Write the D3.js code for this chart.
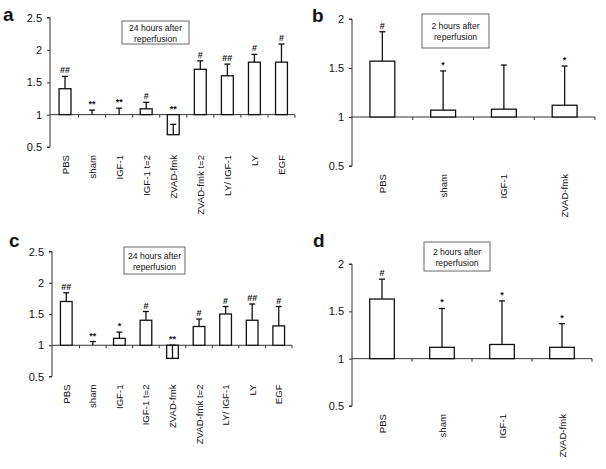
<!DOCTYPE html>
<html><head><meta charset="utf-8">
<script src="https://cdn.jsdelivr.net/npm/d3@7"></script>
<style>
body{margin:0;background:#fff;}
text{font-family:"Liberation Sans",Arial,sans-serif;fill:#111;}
</style></head>
<body>
<svg id="chart" width="606" height="469"></svg>
<script>
// ---- data ----
const catsLong = ["PBS","sham","IGF-1","IGF-1 t=2","ZVAD-fmk","ZVAD-fmk t=2","LY/ IGF-1","LY","EGF"];
const catsShort = ["PBS","sham","IGF-1","ZVAD-fmk"];

const valsA = [1.40,1.00,1.00,1.09,0.69,1.70,1.60,1.81,1.81];
const errA  = [1.59,1.07,1.10,1.19,0.85,1.83,1.78,1.93,2.09];
const sigA  = ["##","**","**","#","**","#","##","#","#"];

const valsB = [1.57,1.07,1.08,1.12];
const errB  = [1.87,1.47,1.53,1.52];
const sigB  = ["#","*","","*"];

const valsC = [1.70,1.00,1.11,1.40,0.79,1.30,1.50,1.40,1.31];
const errC  = [1.84,1.06,1.21,1.54,1.00,1.42,1.62,1.66,1.62];
const sigC  = ["##","**","*","#","**","#","#","##","#"];

const valsD = [1.63,1.12,1.15,1.12];
const errD  = [1.84,1.53,1.61,1.37];
const sigD  = ["#","*","*","*"];

const ticksA = [0.5,1,1.5,2,2.5];
const ticksB = [0.5,1,1.5,2];

const svg = d3.select("#chart");

function panel(o){
  const g = svg.append("g");
  const y = d3.scaleLinear().domain(o.ydom).range([o.yb, o.yt]);
  const x = d3.scaleBand().domain(o.cats).range([o.x0, o.x1]).paddingInner(o.pad).paddingOuter(o.pad/2);
  const base = y(1);
  // y axis
  const ya = d3.axisLeft(y).tickValues(o.ticks).tickSize(3).tickPadding(5)
     .tickFormat(d=>String(d));
  const yg = g.append("g").attr("transform",`translate(${o.ax},0)`).call(ya);
  yg.select(".domain").attr("stroke","#333").attr("d",`M-3,${o.yt}H0V${o.yb}H-3`);
  yg.selectAll(".tick line").attr("stroke","#333");
  yg.selectAll("text").attr("font-size",11).attr("fill","#111");
  // x axis line at 1
  g.append("line").attr("x1",o.ax).attr("x2",o.x1).attr("y1",base).attr("y2",base).attr("stroke","#333").attr("stroke-width",1);
  const step = x.step();
  d3.range(1,o.cats.length+1).forEach(i=>{
    const xx = o.x0 + i*step;
    g.append("line").attr("x1",xx).attr("x2",xx).attr("y1",base).attr("y2",base+3).attr("stroke","#333");
  });
  // bars
  o.cats.forEach((c,i)=>{
    const v=o.vals[i], e=o.errs[i];
    const yv=y(v);
    g.append("rect").attr("x",x(c)).attr("width",x.bandwidth())
      .attr("y",Math.min(yv,base)).attr("height",Math.abs(yv-base))
      .attr("fill","#fff").attr("stroke","#111").attr("stroke-width",1.3);
    const cx = x(c)+x.bandwidth()/2;
    g.append("line").attr("x1",cx).attr("x2",cx).attr("y1",yv).attr("y2",y(e)).attr("stroke","#111").attr("stroke-width",1.3);
    g.append("line").attr("x1",cx-3).attr("x2",cx+3).attr("y1",y(e)).attr("y2",y(e)).attr("stroke","#111").attr("stroke-width",1.3);
    if(o.sig[i]){
      g.append("text").attr("x",cx).attr("y",y(Math.max(e,1))-3)
        .attr("text-anchor","middle").attr("font-size",9).attr("font-weight","bold").text(o.sig[i]);
    }
    g.append("text").attr("transform",`translate(${cx+3.5},${o.yb+8}) rotate(-90)`)
      .attr("text-anchor","end").attr("font-size",9.6).text(c);
  });
  // legend box
  g.append("rect").attr("x",o.box[0]).attr("y",o.box[1]).attr("width",o.box[2]).attr("height",o.box[3])
    .attr("fill","#fff").attr("stroke","#666").attr("stroke-width",1);
  const bx=o.box[0]+o.box[2]/2, by=o.box[1]+o.box[3]/2;
  g.append("text").attr("x",bx).attr("y",by-2).attr("text-anchor","middle").attr("font-size",8.6).text(o.title);
  g.append("text").attr("x",bx).attr("y",by+9).attr("text-anchor","middle").attr("font-size",8.6).text("reperfusion");
  // panel letter
  g.append("text").attr("x",o.lx).attr("y",o.ly).attr("font-size",19).attr("font-weight","bold").text(o.letter);
}

panel({cats:catsLong, vals:valsA, errs:errA, sig:sigA, ydom:[0.5,2.5], ticks:ticksA,
  ax:50, x0:51.5, x1:295, yt:17.5, yb:147, pad:0.56, box:[122,21,67,23], title:"24 hours after", letter:"a", lx:3, ly:21});
panel({cats:catsShort, vals:valsB, errs:errB, sig:sigB, ydom:[0.5,2], ticks:ticksB,
  ax:352, x0:352, x1:595, yt:19, yb:166, pad:0.59, box:[422,14,67,34], title:"2 hours after", letter:"b", lx:312, ly:22});
panel({cats:catsLong, vals:valsC, errs:errC, sig:sigC, ydom:[0.5,2.5], ticks:ticksA,
  ax:52, x0:53, x1:292, yt:251.5, yb:376.5, pad:0.56, box:[124,247,61,27], title:"24 hours after", letter:"c", lx:9, ly:247});
panel({cats:catsShort, vals:valsD, errs:errD, sig:sigD, ydom:[0.5,2], ticks:ticksB,
  ax:352, x0:352, x1:592, yt:264, yb:406, pad:0.59, box:[424,242,66,29], title:"2 hours after", letter:"d", lx:313, ly:247});
</script>
</body></html>
